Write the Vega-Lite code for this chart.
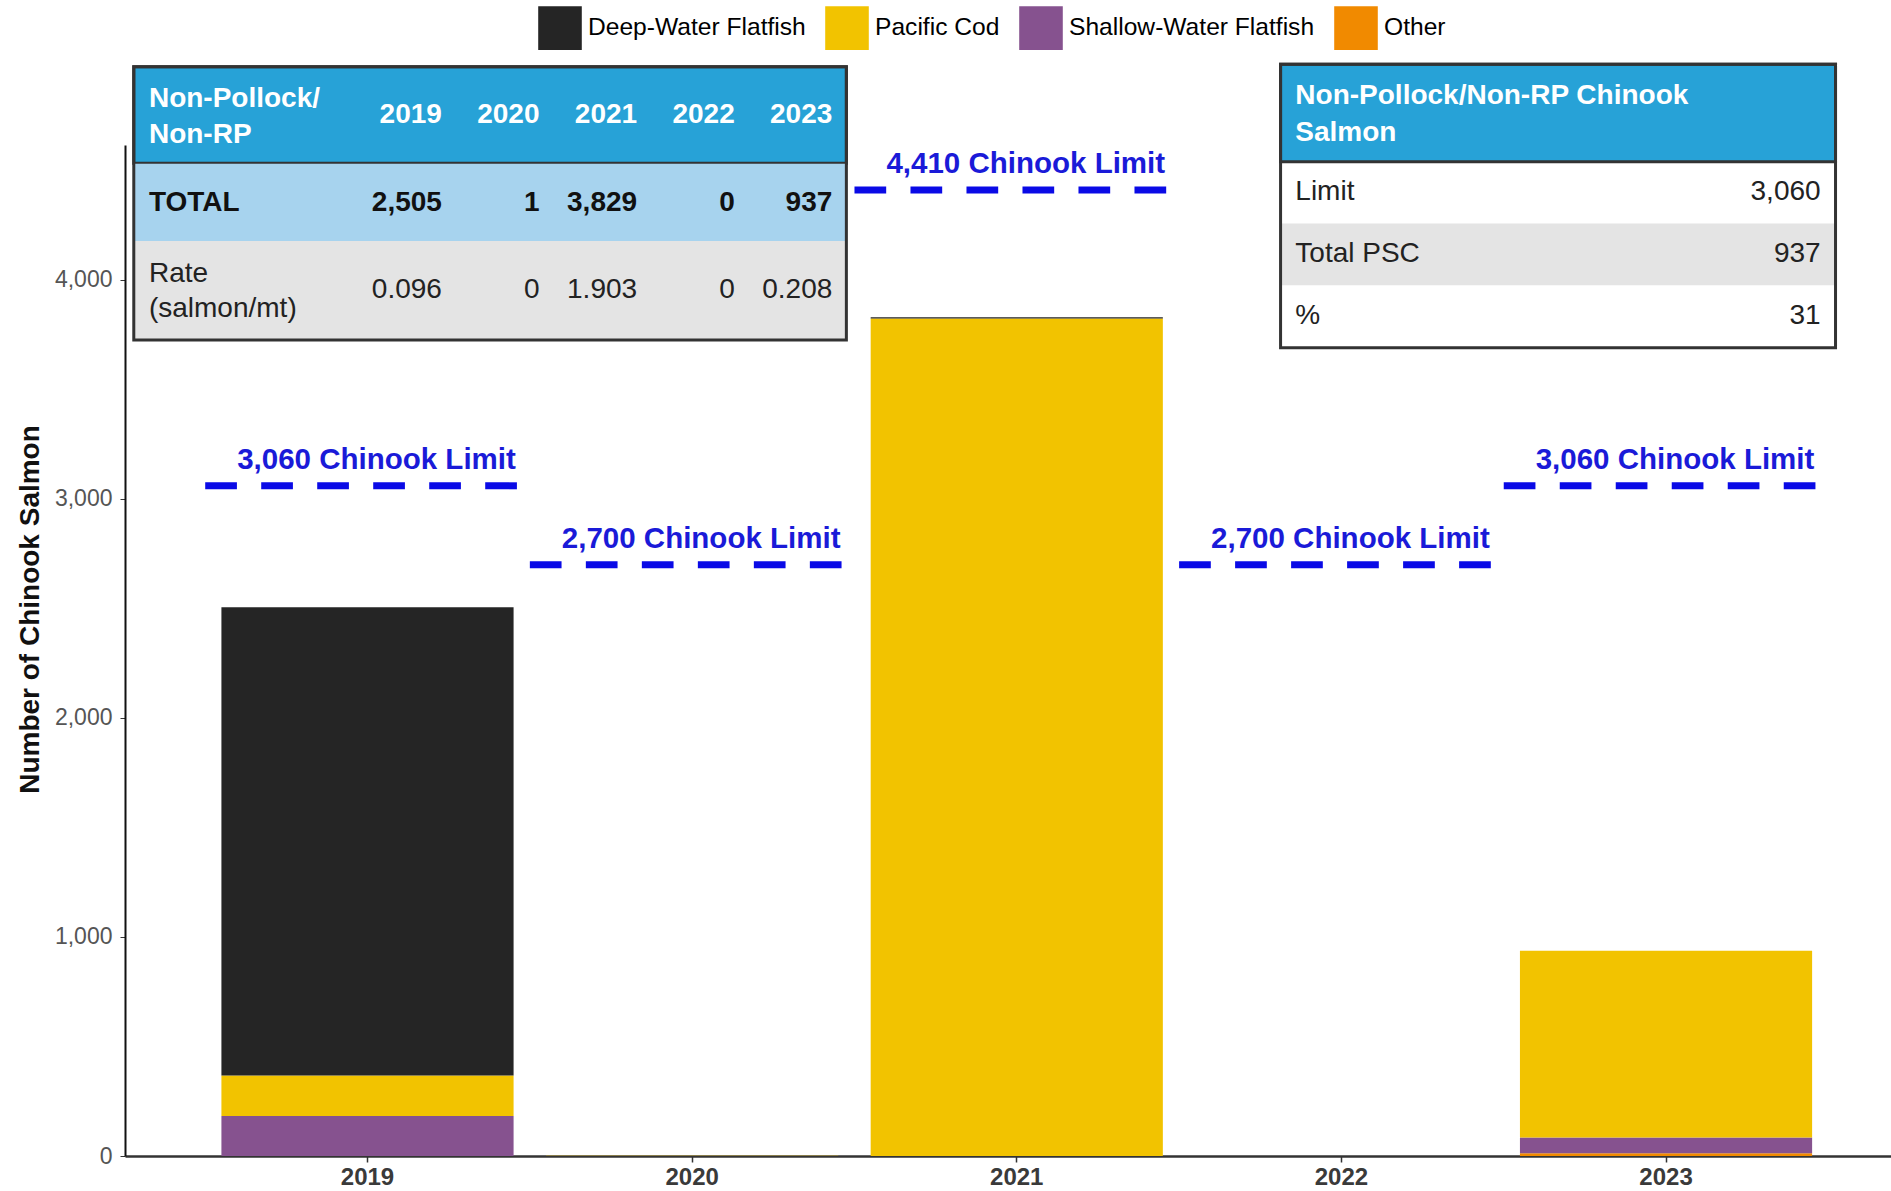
{
  "$schema": "https://vega.github.io/schema/vega-lite/v6.json",
  "width": 1766,
  "height": 1011,
  "autosize": {"type": "none"},
  "padding": {"left": 125, "top": 145, "right": 0, "bottom": 35},
  "background": "white",
  "config": {
    "font": "Liberation Sans",
    "view": {"stroke": null}
  },
  "datasets": {
    "bycatch": [
      {"year": "2019", "category": "Other", "salmon": 0},
      {"year": "2019", "category": "Shallow-Water Flatfish", "salmon": 183},
      {"year": "2019", "category": "Pacific Cod", "salmon": 184},
      {"year": "2019", "category": "Deep-Water Flatfish", "salmon": 2138},
      {"year": "2020", "category": "Other", "salmon": 0},
      {"year": "2020", "category": "Shallow-Water Flatfish", "salmon": 0},
      {"year": "2020", "category": "Pacific Cod", "salmon": 1},
      {"year": "2020", "category": "Deep-Water Flatfish", "salmon": 0},
      {"year": "2021", "category": "Other", "salmon": 0},
      {"year": "2021", "category": "Shallow-Water Flatfish", "salmon": 0},
      {"year": "2021", "category": "Pacific Cod", "salmon": 3824},
      {"year": "2021", "category": "Deep-Water Flatfish", "salmon": 5},
      {"year": "2022", "category": "Other", "salmon": 0},
      {"year": "2022", "category": "Shallow-Water Flatfish", "salmon": 0},
      {"year": "2022", "category": "Pacific Cod", "salmon": 0},
      {"year": "2022", "category": "Deep-Water Flatfish", "salmon": 0},
      {"year": "2023", "category": "Other", "salmon": 12},
      {"year": "2023", "category": "Shallow-Water Flatfish", "salmon": 73},
      {"year": "2023", "category": "Pacific Cod", "salmon": 852},
      {"year": "2023", "category": "Deep-Water Flatfish", "salmon": 0}
    ],
    "limits": [
      {"year": "2019", "limit": 3060, "label": "3,060 Chinook Limit"},
      {"year": "2020", "limit": 2700, "label": "2,700 Chinook Limit"},
      {"year": "2021", "limit": 4410, "label": "4,410 Chinook Limit"},
      {"year": "2022", "limit": 2700, "label": "2,700 Chinook Limit"},
      {"year": "2023", "limit": 3060, "label": "3,060 Chinook Limit"}
    ],
    "summary": [
      {"row": 0, "col": 0, "text": "Non-Pollock/\nNon-RP"},
      {"row": 0, "col": 1, "text": "2019"},
      {"row": 0, "col": 2, "text": "2020"},
      {"row": 0, "col": 3, "text": "2021"},
      {"row": 0, "col": 4, "text": "2022"},
      {"row": 0, "col": 5, "text": "2023"},
      {"row": 1, "col": 0, "text": "TOTAL"},
      {"row": 1, "col": 1, "text": "2,505"},
      {"row": 1, "col": 2, "text": "1"},
      {"row": 1, "col": 3, "text": "3,829"},
      {"row": 1, "col": 4, "text": "0"},
      {"row": 1, "col": 5, "text": "937"},
      {"row": 2, "col": 0, "text": "Rate\n(salmon/mt)"},
      {"row": 2, "col": 1, "text": "0.096"},
      {"row": 2, "col": 2, "text": "0"},
      {"row": 2, "col": 3, "text": "1.903"},
      {"row": 2, "col": 4, "text": "0"},
      {"row": 2, "col": 5, "text": "0.208"}
    ],
    "limit_table": [
      {"row": 0, "col": 0, "text": "Non-Pollock/Non-RP Chinook\nSalmon"},
      {"row": 1, "col": 0, "text": "Limit"},
      {"row": 1, "col": 1, "text": "3,060"},
      {"row": 2, "col": 0, "text": "Total PSC"},
      {"row": 2, "col": 1, "text": "937"},
      {"row": 3, "col": 0, "text": "%"},
      {"row": 3, "col": 1, "text": "31"}
    ]
  },
  "layer": [
    {
      "layer": [
        {
          "data": {"name": "bycatch"},
          "transform": [
            {"window": [{"op": "row_number", "as": "stack_rank"}], "groupby": ["year"]}
          ],
          "mark": {"type": "bar"},
          "encoding": {
            "x": {
              "field": "year",
              "type": "ordinal",
              "scale": {"paddingInner": 0.1, "paddingOuter": 0.27, "align": 0.55},
              "axis": {
                "title": null,
                "labelAngle": 0,
                "labelFontSize": 24,
                "labelFontWeight": "bold",
                "labelColor": "#3a3a3a",
                "labelPadding": 3,
                "domainColor": "#333333",
                "domainWidth": 2.5,
                "tickColor": "#333333",
                "tickSize": 6,
                "tickWidth": 1.5,
                "grid": false
              }
            },
            "y": {
              "field": "salmon",
              "type": "quantitative",
              "stack": "zero",
              "scale": {"domain": [0, 4616], "nice": false},
              "axis": {
                "title": "Number of Chinook Salmon",
                "titleFontSize": 28,
                "titleFontWeight": "bold",
                "titleColor": "#111111",
                "titleAngle": -90,
                "titleX": -95,
                "titleY": 464,
                "titleAlign": "center",
                "titleBaseline": "middle",
                "values": [0, 1000, 2000, 3000, 4000],
                "format": ",.0f",
                "labelFontSize": 23,
                "labelColor": "#555555",
                "labelPadding": 8,
                "tickColor": "#333333",
                "tickSize": 5,
                "domainColor": "#111111",
                "domainWidth": 2,
                "grid": false
              }
            },
            "color": {
              "field": "category",
              "type": "nominal",
              "scale": {
                "domain": ["Deep-Water Flatfish", "Pacific Cod", "Shallow-Water Flatfish", "Other"],
                "range": ["#252525", "#F2C300", "#86528F", "#F18A00"]
              },
              "legend": {
                "title": null,
                "orient": "none",
                "legendX": 413,
                "legendY": -139,
                "direction": "horizontal",
                "symbolType": "square",
                "symbolSize": 1900,
                "symbolStrokeWidth": 0,
                "symbolOpacity": 1,
                "labelFontSize": 24.6,
                "labelColor": "#000000",
                "labelLimit": 0,
                "labelOffset": 6,
                "columnPadding": 19,
                "padding": 0
              }
            },
            "order": {"field": "stack_rank", "type": "quantitative"}
          }
        },
        {
          "data": {"name": "limits"},
          "mark": {
            "type": "rule",
            "color": "#0A0AE6",
            "strokeWidth": 7,
            "strokeDash": [31.7, 24.3],
            "strokeCap": "butt",
            "xOffset": -16.2,
            "x2Offset": 16.2
          },
          "encoding": {
            "x": {"field": "year", "type": "ordinal", "bandPosition": 0},
            "x2": {"field": "year", "bandPosition": 1},
            "y": {"field": "limit", "type": "quantitative"}
          }
        },
        {
          "data": {"name": "limits"},
          "mark": {
            "type": "text",
            "color": "#1A1AD8",
            "fontSize": 29.5,
            "fontWeight": "bold",
            "align": "center",
            "baseline": "alphabetic",
            "dx": 9,
            "dy": -17
          },
          "encoding": {
            "x": {"field": "year", "type": "ordinal"},
            "y": {"field": "limit", "type": "quantitative"},
            "text": {"field": "label"}
          }
        }
      ]
    },
    {
      "data": {"name": "summary"},
      "encoding": {
        "x": {
          "field": "col",
          "type": "quantitative",
          "scale": {"domain": [-2.247, 15.847], "nice": false, "zero": false},
          "axis": null
        },
        "y": {
          "field": "row",
          "type": "quantitative",
          "scale": {"domain": [0.342, 11.863], "nice": false, "zero": false, "reverse": true},
          "axis": null
        }
      },
      "layer": [
        {
          "transform": [{"filter": "datum.row == 0 && datum.col == 0"}],
          "mark": {"type": "rect", "fill": "#27A2D7", "stroke": "#333333", "strokeWidth": 3, "yOffset": -48.3, "y2Offset": 48.3},
          "encoding": {
            "x": {"datum": -2.157},
            "x2": {"datum": 5.144},
            "y2": {"field": "row"}
          }
        },
        {
          "transform": [{"filter": "datum.row == 1 && datum.col == 0"}],
          "mark": {"type": "rect", "fill": "#A7D3EE", "yOffset": -38.9, "y2Offset": 38.8},
          "encoding": {
            "x": {"datum": -2.157},
            "x2": {"datum": 5.144},
            "y2": {"field": "row"}
          }
        },
        {
          "transform": [{"filter": "datum.row == 2 && datum.col == 0"}],
          "mark": {"type": "rect", "fill": "#E4E4E4", "yOffset": -49.5, "y2Offset": 49.5},
          "encoding": {
            "x": {"datum": -2.157},
            "x2": {"datum": 5.144},
            "y2": {"field": "row"}
          }
        },
        {
          "transform": [{"filter": "datum.row == 0 && datum.col == 0"}],
          "mark": {"type": "rect", "fillOpacity": 0, "stroke": "#333333", "strokeWidth": 3, "yOffset": -48.3, "y2Offset": 49.5},
          "encoding": {
            "x": {"datum": -2.157},
            "x2": {"datum": 5.144},
            "y2": {"datum": 2}
          }
        },
        {
          "transform": [{"filter": "datum.row == 0 && datum.col == 0"}],
          "mark": {"type": "text", "fill": "white", "fontSize": 28, "fontWeight": "bold", "align": "left", "baseline": "middle", "lineBreak": "\n", "lineHeight": 36, "dx": -195.4, "dy": -16},
          "encoding": {"text": {"field": "text"}}
        },
        {
          "transform": [{"filter": "datum.row == 0 && datum.col > 0"}],
          "mark": {"type": "text", "fill": "white", "fontSize": 28, "fontWeight": "bold", "align": "right", "baseline": "middle"},
          "encoding": {"text": {"field": "text"}}
        },
        {
          "transform": [{"filter": "datum.row == 1 && datum.col == 0"}],
          "mark": {"type": "text", "fill": "#111111", "fontSize": 28, "fontWeight": "bold", "align": "left", "baseline": "middle", "dx": -195.4},
          "encoding": {"text": {"field": "text"}}
        },
        {
          "transform": [{"filter": "datum.row == 1 && datum.col > 0"}],
          "mark": {"type": "text", "fill": "#111111", "fontSize": 28, "fontWeight": "bold", "align": "right", "baseline": "middle"},
          "encoding": {"text": {"field": "text"}}
        },
        {
          "transform": [{"filter": "datum.row == 2 && datum.col == 0"}],
          "mark": {"type": "text", "fill": "#222222", "fontSize": 28, "align": "left", "baseline": "middle", "lineBreak": "\n", "lineHeight": 35, "dx": -195.4, "dy": -16},
          "encoding": {"text": {"field": "text"}}
        },
        {
          "transform": [{"filter": "datum.row == 2 && datum.col > 0"}],
          "mark": {"type": "text", "fill": "#222222", "fontSize": 28, "align": "right", "baseline": "middle"},
          "encoding": {"text": {"field": "text"}}
        }
      ]
    },
    {
      "data": {"name": "limit_table"},
      "encoding": {
        "x": {
          "field": "col",
          "type": "quantitative",
          "scale": {"domain": [-2.228, 1.134], "nice": false, "zero": false},
          "axis": null
        },
        "y": {
          "field": "row",
          "type": "quantitative",
          "scale": {"domain": [0.2333, 16.553], "nice": false, "zero": false, "reverse": true},
          "axis": null
        }
      },
      "layer": [
        {
          "transform": [{"filter": "datum.row == 1 && datum.col == 0"}],
          "mark": {"type": "rect", "fill": "white", "yOffset": -31, "y2Offset": 31.3},
          "encoding": {
            "x": {"datum": -0.0281},
            "x2": {"datum": 1.0284},
            "y2": {"datum": 3}
          }
        },
        {
          "transform": [{"filter": "datum.row == 2 && datum.col == 0"}],
          "mark": {"type": "rect", "fill": "#E4E4E4", "yOffset": -30.9, "y2Offset": 30.9},
          "encoding": {
            "x": {"datum": -0.0281},
            "x2": {"datum": 1.0284},
            "y2": {"field": "row"}
          }
        },
        {
          "transform": [{"filter": "datum.row == 0 && datum.col == 0"}],
          "mark": {"type": "rect", "fill": "#27A2D7", "stroke": "#333333", "strokeWidth": 3, "yOffset": -66.25, "y2Offset": 31.15},
          "encoding": {
            "x": {"datum": -0.0281},
            "x2": {"datum": 1.0284},
            "y2": {"field": "row"}
          }
        },
        {
          "transform": [{"filter": "datum.row == 0 && datum.col == 0"}],
          "mark": {"type": "rect", "fillOpacity": 0, "stroke": "#333333", "strokeWidth": 3, "yOffset": -66.25, "y2Offset": 31.3},
          "encoding": {
            "x": {"datum": -0.0281},
            "x2": {"datum": 1.0284},
            "y2": {"datum": 3}
          }
        },
        {
          "transform": [{"filter": "datum.row == 0"}],
          "mark": {"type": "text", "fill": "white", "fontSize": 28, "fontWeight": "bold", "align": "left", "baseline": "middle", "lineBreak": "\n", "lineHeight": 36.7, "dy": -34.5},
          "encoding": {"text": {"field": "text"}}
        },
        {
          "transform": [{"filter": "datum.row > 0 && datum.col == 0"}],
          "mark": {"type": "text", "fill": "#222222", "fontSize": 28, "align": "left", "baseline": "middle"},
          "encoding": {"text": {"field": "text"}}
        },
        {
          "transform": [{"filter": "datum.row > 0 && datum.col == 1"}],
          "mark": {"type": "text", "fill": "#222222", "fontSize": 28, "align": "right", "baseline": "middle"},
          "encoding": {"text": {"field": "text"}}
        }
      ]
    }
  ],
  "resolve": {
    "scale": {"x": "independent", "y": "independent"},
    "axis": {"x": "independent", "y": "independent"}
  }
}
